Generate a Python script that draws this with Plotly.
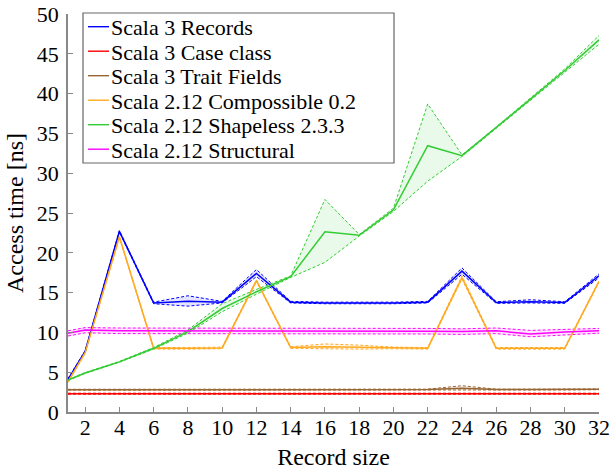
import plotly.graph_objects as go

# ---------------- data ----------------
record_size = [1, 2, 4, 6, 8, 10, 12, 14, 16, 18, 20, 22, 24, 26, 28, 30, 32]
x_ticks = [2, 4, 6, 8, 10, 12, 14, 16, 18, 20, 22, 24, 26, 28, 30, 32]
y_ticks = [0, 5, 10, 15, 20, 25, 30, 35, 40, 45, 50]

series_names = ["Scala 3 Records", "Scala 3 Case class", "Scala 3 Trait Fields",
                "Scala 2.12 Compossible 0.2", "Scala 2.12 Shapeless 2.3.3",
                "Scala 2.12 Structural"]

records_mean = [4.1, 7.6, 22.7, 13.7, 13.9, 13.8, 17.4, 13.8, 13.7, 13.7, 13.7, 13.8, 17.7, 13.75, 13.85, 13.75, 17.1]
records_hi   = [4.2, 7.7, 22.8, 13.8, 14.6, 13.9, 17.9, 13.9, 13.8, 13.8, 13.8, 13.9, 18.1, 13.85, 14.1, 13.85, 17.35]
records_lo   = [4.0, 7.5, 22.6, 13.6, 13.3, 13.7, 17.0, 13.7, 13.6, 13.6, 13.6, 13.7, 17.3, 13.65, 13.7, 13.65, 16.85]

case_mean = [2.3, 2.3, 2.3, 2.3, 2.3, 2.3, 2.3, 2.3, 2.3, 2.3, 2.3, 2.3, 2.3, 2.3, 2.3, 2.3, 2.3]
case_hi   = [2.36, 2.36, 2.36, 2.36, 2.36, 2.36, 2.36, 2.36, 2.36, 2.36, 2.36, 2.36, 2.36, 2.36, 2.36, 2.36, 2.36]
case_lo   = [2.24, 2.24, 2.24, 2.24, 2.24, 2.24, 2.24, 2.24, 2.24, 2.24, 2.24, 2.24, 2.24, 2.24, 2.24, 2.24, 2.24]

trait_mean = [2.8, 2.8, 2.8, 2.8, 2.8, 2.8, 2.8, 2.82, 2.82, 2.82, 2.82, 2.82, 2.97, 2.82, 2.82, 2.82, 2.85]
trait_hi   = [2.85, 2.85, 2.85, 2.85, 2.85, 2.85, 2.85, 2.87, 2.87, 2.87, 2.87, 2.87, 3.3, 2.87, 2.87, 2.87, 2.9]
trait_lo   = [2.75, 2.75, 2.75, 2.75, 2.75, 2.75, 2.75, 2.77, 2.77, 2.77, 2.77, 2.77, 2.7, 2.77, 2.77, 2.77, 2.8]

comp_mean = [3.8, 7.45, 22.0, 8.0, 8.0, 8.05, 16.5, 8.1, 8.2, 8.15, 8.05, 8.0, 16.9, 8.0, 8.0, 8.0, 16.4]
comp_hi   = [3.9, 7.55, 22.1, 8.1, 8.1, 8.15, 16.6, 8.2, 8.55, 8.4, 8.15, 8.1, 17.1, 8.1, 8.1, 8.1, 16.5]
comp_lo   = [3.7, 7.35, 21.9, 7.9, 7.9, 7.95, 16.4, 8.0, 7.95, 7.9, 7.95, 7.9, 16.7, 7.9, 7.9, 7.9, 16.3]

shape_mean = [4.0, 4.9, 6.3, 8.0, 10.1, 13.0, 15.1, 17.0, 22.65, 22.2, 25.4, 33.45, 32.2, 35.7, 39.3, 42.9, 46.75]
shape_hi   = [4.05, 4.95, 6.35, 8.1, 10.3, 13.6, 15.4, 17.1, 26.7, 22.3, 25.6, 38.7, 32.3, 35.8, 39.45, 43.1, 47.3]
shape_lo   = [3.95, 4.85, 6.25, 7.9, 9.9, 12.6, 14.8, 16.9, 18.8, 22.1, 25.2, 29.0, 32.1, 35.6, 39.15, 42.7, 46.2]

struct_mean = [9.9, 10.3, 10.2, 10.2, 10.2, 10.15, 10.15, 10.2, 10.2, 10.2, 10.15, 10.15, 10.1, 10.2, 9.8, 10.05, 10.2]
struct_hi   = [10.2, 10.6, 10.55, 10.55, 10.55, 10.5, 10.5, 10.55, 10.55, 10.55, 10.5, 10.5, 10.45, 10.55, 10.25, 10.4, 10.5]
struct_lo   = [9.55, 9.95, 9.85, 9.85, 9.85, 9.8, 9.8, 9.85, 9.85, 9.85, 9.8, 9.8, 9.75, 9.85, 9.45, 9.7, 9.9]

# ---------------- style ----------------
colors = ["#0000ff", "#ff0000", "#996633", "#ffaa22", "#33cc33", "#ff00ff"]
fills = ["rgba(0,0,255,0.10)", "rgba(255,0,0,0.10)", "rgba(153,102,51,0.10)",
         "rgba(255,170,34,0.10)", "rgba(51,204,51,0.10)", "rgba(255,0,255,0.10)"]
FONT = "Liberation Serif"

data = [
    (records_mean, records_hi, records_lo),
    (case_mean, case_hi, case_lo),
    (trait_mean, trait_hi, trait_lo),
    (comp_mean, comp_hi, comp_lo),
    (shape_mean, shape_hi, shape_lo),
    (struct_mean, struct_hi, struct_lo),
]

fig = go.Figure()
for i, (m, hi, lo) in enumerate(data):
    fig.add_trace(go.Scatter(x=record_size, y=hi, mode="lines", showlegend=False,
                             line=dict(color=colors[i], width=1, dash="3px,2px"),
                             hoverinfo="skip"))
    fig.add_trace(go.Scatter(x=record_size, y=lo, mode="lines", showlegend=False,
                             line=dict(color=colors[i], width=1, dash="3px,2px"),
                             fill="tonexty", fillcolor=fills[i], hoverinfo="skip"))
for i, (m, hi, lo) in enumerate(data):
    fig.add_trace(go.Scatter(x=record_size, y=m, mode="lines", name=series_names[i],
                             showlegend=False, line=dict(color=colors[i], width=1.5)))

# ---------------- manual legend (box, samples, labels) ----------------
W, H = 613, 470
L, R, T, B = 68, 14, 14, 58
pw, ph = W - L - R, H - T - B

def px_x(p):
    return (p - L) / pw

def px_y(p):
    return (H - B - p) / ph

shapes = [dict(type="rect", xref="paper", yref="paper",
               x0=px_x(83), x1=px_x(394), y0=px_y(163), y1=px_y(13),
               line=dict(color="#666666", width=1.2), fillcolor="white", layer="above")]
annotations = []
row_y = [26.7, 51.2, 75.7, 100.2, 124.7, 149.2]
for i, name in enumerate(series_names):
    shapes.append(dict(type="line", xref="paper", yref="paper",
                       x0=px_x(88), x1=px_x(109), y0=px_y(row_y[i]), y1=px_y(row_y[i]),
                       line=dict(color=colors[i], width=1.4), layer="above"))
    annotations.append(dict(xref="paper", yref="paper", x=px_x(110), y=px_y(row_y[i] + 1),
                            text=name, showarrow=False, xanchor="left", yanchor="middle",
                            borderpad=0,
                            font=dict(family=FONT, size=22, color="black")))

fig.update_layout(
    width=W, height=H,
    margin=dict(l=L, r=R, t=T, b=B, autoexpand=False),
    plot_bgcolor="white", paper_bgcolor="white",
    font=dict(family=FONT, size=22, color="black"),
    shapes=shapes, annotations=annotations,
    showlegend=False,
    xaxis=dict(range=[1, 32], tickvals=x_ticks, ticktext=[str(v) for v in x_ticks],
               ticks="inside", ticklen=5, tickcolor="#888888", tickwidth=1,
               showline=True, linecolor="#888888", linewidth=1.5,
               showgrid=False, zeroline=False, automargin=False,
               ticklabelstandoff=-5,
               tickfont=dict(family=FONT, size=22),
               title=dict(text="Record size", font=dict(family=FONT, size=24), standoff=11)),
    yaxis=dict(range=[0, 50], tickvals=y_ticks, ticks="inside", ticklen=5,
               tickcolor="#888888", tickwidth=1,
               showline=True, linecolor="#888888", linewidth=1.5,
               showgrid=False, zeroline=False, automargin=False,
               ticklabelstandoff=3,
               tickfont=dict(family=FONT, size=22),
               title=dict(text="Access time [ns]", font=dict(family=FONT, size=24), standoff=6)),
)

fig.write_html("out.html", config={"displayModeBar": False},
               post_script="document.body.style.margin='0px';")
